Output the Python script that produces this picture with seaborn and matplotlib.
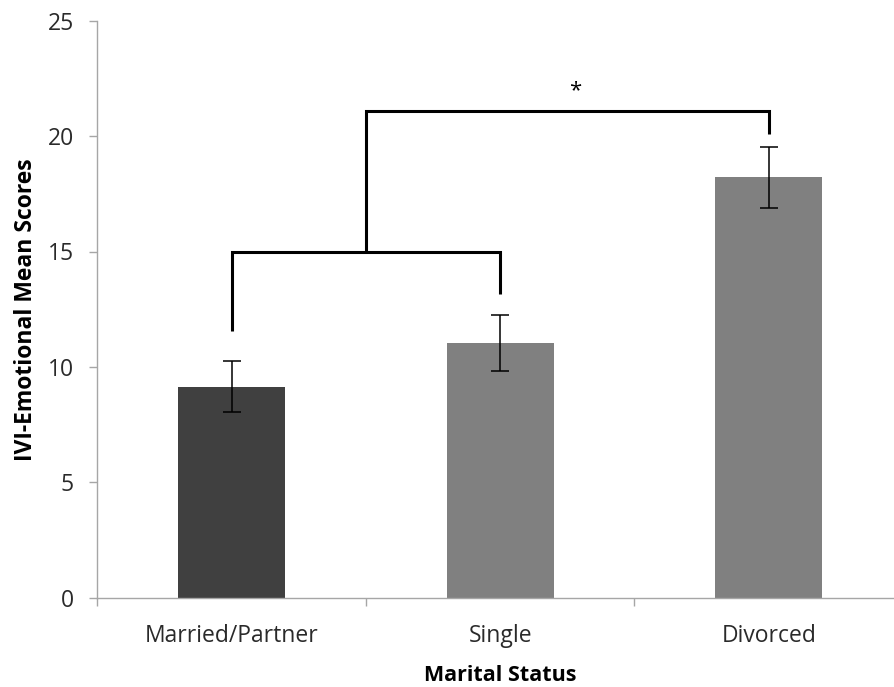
import numpy as np
import pandas as pd
import matplotlib
matplotlib.use("Agg")
import matplotlib.pyplot as plt
import seaborn as sns
from matplotlib.ticker import FixedLocator

# Group means and standard errors
categories = ["Married/Partner", "Single", "Divorced"]
means = [9.14, 11.05, 18.21]
errors = [1.11, 1.21, 1.33]
bar_colors = ["#404040", "#808080", "#808080"]

# Significance brackets (group positions and heights on the score scale)
low_bracket_x = [0, 0, 1, 1]
low_bracket_y = [11.56, 15.0, 15.0, 13.15]
high_bracket_x = [0.5, 0.5, 2, 2]
high_bracket_y = [15.0, 21.1, 21.1, 20.09]
star_x, star_y, star_text = 1.28, 21.95, "*"

y_ticks = [0, 5, 10, 15, 20, 25]

sns.set_style("white")
plt.rcParams["font.family"] = ["Open Sans", "DejaVu Sans"]

df = pd.DataFrame({"status": categories, "score": means})

fig = plt.figure(figsize=(8.95, 6.87), dpi=100)
ax = fig.add_axes([97.5 / 895, 1 - 597.7 / 687, (903 - 97.5) / 895, (597.7 - 20.7) / 687])

sns.barplot(data=df, x="status", y="score", hue="status", palette=bar_colors,
            order=categories, hue_order=categories, width=0.4, legend=False,
            errorbar=None, saturation=1, ax=ax, edgecolor="none")

pos = np.arange(len(categories))
ax.errorbar(pos, means, yerr=errors, fmt="none", ecolor="black",
            elinewidth=1.1, capsize=6.5, capthick=1.1, zorder=3)

ax.plot(low_bracket_x, low_bracket_y, color="black", lw=2.2,
        solid_joinstyle="miter", solid_capstyle="butt", zorder=4)
ax.plot(high_bracket_x, high_bracket_y, color="black", lw=2.2,
        solid_joinstyle="miter", solid_capstyle="butt", zorder=4)
ax.text(star_x, star_y, star_text, ha="center", va="center", fontsize=16,
        color="black")

ax.set_xlim(-0.5, 2.5)
ax.set_ylim(0, 25)
ax.set_yticks(y_ticks)
ax.set_yticklabels([str(t) for t in y_ticks])

# category boundaries carry the tick marks; labels sit at bar centers
ax.xaxis.set_minor_locator(FixedLocator([-0.5, 0.5, 1.5, 2.5]))
ax.tick_params(axis="x", which="major", length=0, pad=19, labelsize=16.5,
               labelcolor="#2a2a2a")
ax.tick_params(axis="x", which="minor", bottom=True, length=6, width=1,
               color="#a6a6a6", direction="out")
ax.tick_params(axis="y", which="major", left=True, length=6, width=1,
               color="#a6a6a6", direction="out", pad=11, labelsize=16.5,
               labelcolor="#2a2a2a")

for side in ["top", "right"]:
    ax.spines[side].set_visible(False)
for side in ["left", "bottom"]:
    ax.spines[side].set_color("#a6a6a6")
    ax.spines[side].set_linewidth(1)

ax.set_xlabel("Marital Status", fontsize=15.5, fontweight="bold", labelpad=12,
              color="black")
ax.set_ylabel("IVI-Emotional Mean Scores", fontsize=16.5, fontweight="bold",
              labelpad=7, color="black")

fig.savefig("out.png", dpi=100)
